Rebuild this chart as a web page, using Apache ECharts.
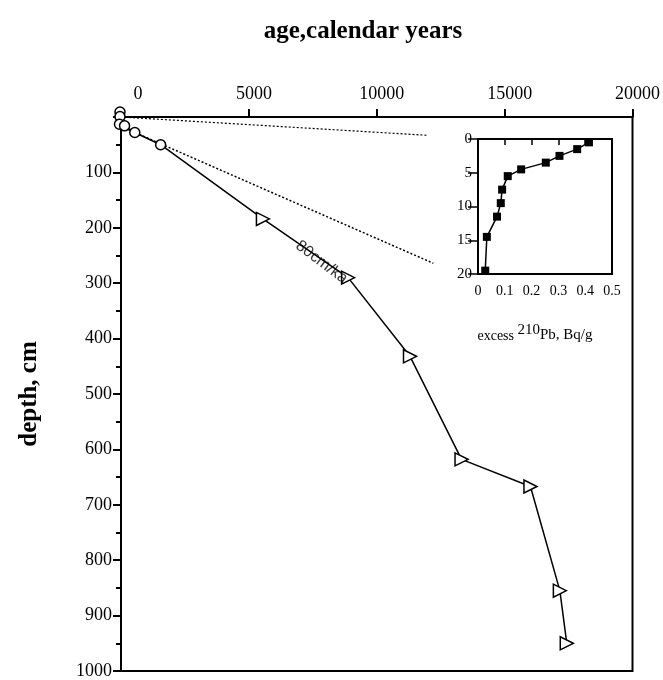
<!DOCTYPE html>
<html>
<head>
<meta charset="utf-8">
<script src="https://cdn.jsdelivr.net/npm/echarts@6/dist/echarts.min.js"></script>
<style>
html,body{margin:0;padding:0;background:#fff;}
#chart{width:663px;height:680px;}
</style>
</head>
<body>
<div id="chart"></div>
<script>
// Main plot: age (calendar years) vs depth (cm)
const circleAges   = [-40, -40, -60, 140, 540, 1550];
const circleDepths = [-9, -1, 13, 16, 28, 50];
const triAges      = [5550, 8880, 11300, 13315, 16010, 17160, 17430];
const triDepths    = [184, 290, 432, 618, 667, 855, 950];
// dotted sedimentation-rate reference lines
const ref1Ages   = [0, 11960];
const ref1Depths = [0, 33];
const ref2Ages   = [0, 12210];
const ref2Depths = [17, 264];
// rate annotation
const rateLabel = '80cm/ka';
const rateAt = [7840, 262];
// axis ticks
const ageTicks = [0, 5000, 10000, 15000, 20000];
const depthTicks = [0, 100, 200, 300, 400, 500, 600, 700, 800, 900, 1000];

// Inset: excess 210Pb (Bq/g) vs depth (cm)
const pbValues = [0.414, 0.370, 0.304, 0.253, 0.161, 0.111, 0.090, 0.085, 0.071, 0.033, 0.027];
const pbDepths = [0.5, 1.5, 2.5, 3.5, 4.5, 5.5, 7.5, 9.5, 11.5, 14.5, 19.5];
const pbTicks = [0, 0.1, 0.2, 0.3, 0.4, 0.5];
const pbDepthTicks = [0, 5, 10, 15, 20];

const serif = '"Liberation Serif","Times New Roman",serif';
const zip = (a, b) => a.map((v, i) => [v, b[i]]);
const mainPts = zip(circleAges, circleDepths).concat(zip(triAges, triDepths));

const chart = echarts.init(document.getElementById('chart'), null, {renderer: 'canvas'});
chart.setOption({
  animation: false,
  backgroundColor: '#fff',
  title: [{
    text: 'age,calendar years', left: 358, top: 14, textAlign: 'center',
    textStyle: {fontFamily: serif, fontWeight: 'bold', fontSize: 25, color: '#000'}
  }],
  grid: [
    {left: 121, top: 117, right: 27, bottom: 5, show: true, borderColor: '#000', borderWidth: 2, backgroundColor: 'transparent'},
    {left: 478, top: 139, width: 134, height: 135, show: true, borderColor: '#000', borderWidth: 2, backgroundColor: '#fff'}
  ],
  xAxis: [{
    gridIndex: 0, type: 'value', position: 'top', min: ageTicks[0], max: ageTicks[ageTicks.length - 1], interval: 5000,
    axisLine: {show: true, lineStyle: {color: '#000', width: 2}},
    axisTick: {show: true, inside: false, length: 8, lineStyle: {color: '#000', width: 2}},
    splitLine: {show: false},
    axisLabel: {fontFamily: serif, fontSize: 18, color: '#000', margin: 14,
      formatter: v => v === 0 ? '{z|0}' : '{n|' + v + '}',
      rich: {z: {fontFamily: serif, fontSize: 18, color: '#000', padding: [0, 0, 0, 34]},
             n: {fontFamily: serif, fontSize: 18, color: '#000', padding: [0, 0, 0, 10]}}}
  }, {
    gridIndex: 1, type: 'value', position: 'bottom', min: pbTicks[0], max: pbTicks[pbTicks.length - 1], interval: 0.1,
    axisLine: {show: true, lineStyle: {color: '#000', width: 2}},
    axisTick: {show: true, inside: false, length: 6, lineStyle: {color: '#000', width: 1.5}},
    splitLine: {show: false},
    axisLabel: {fontFamily: serif, fontSize: 14, color: '#000', margin: 10, formatter: v => String(+v.toFixed(1))},
    name: '{a|excess }{s|210}{b|Pb, Bq/g}', nameLocation: 'middle', nameGap: 49,
    nameTextStyle: {padding: [0, 20, 0, 0], rich: {
      a: {fontFamily: serif, fontSize: 14, color: '#000', lineHeight: 20, verticalAlign: 'bottom'},
      s: {fontFamily: serif, fontSize: 15, color: '#000', lineHeight: 20, verticalAlign: 'top'},
      b: {fontFamily: serif, fontSize: 15, color: '#000', lineHeight: 20, verticalAlign: 'bottom'}
    }}
  }],
  yAxis: [{
    gridIndex: 0, type: 'value', inverse: true, min: depthTicks[0], max: depthTicks[depthTicks.length - 1], interval: 100,
    axisLine: {show: true, lineStyle: {color: '#000', width: 2}},
    axisTick: {show: true, inside: false, length: 8, lineStyle: {color: '#000', width: 2}},
    minorTick: {show: true, splitNumber: 2, length: 5, lineStyle: {color: '#000', width: 2}},
    splitLine: {show: false}, minorSplitLine: {show: false},
    axisLabel: {fontFamily: serif, fontSize: 18, color: '#000', margin: 9, showMinLabel: false, formatter: v => String(v)},
    name: 'depth, cm', nameLocation: 'middle', nameGap: 79, nameRotate: 90,
    nameTextStyle: {fontFamily: serif, fontWeight: 'bold', fontSize: 25, color: '#000'}
  }, {
    gridIndex: 1, type: 'value', inverse: true, min: pbDepthTicks[0], max: pbDepthTicks[pbDepthTicks.length - 1], interval: 5,
    axisLine: {show: true, lineStyle: {color: '#000', width: 2}},
    axisTick: {show: true, inside: false, length: 10, lineStyle: {color: '#000', width: 1.5}},
    splitLine: {show: false},
    axisLabel: {fontFamily: serif, fontSize: 15, color: '#000', margin: 6, formatter: v => String(v)}
  }],
  series: [
    {type: 'line', xAxisIndex: 0, yAxisIndex: 0, data: zip(ref1Ages, ref1Depths), showSymbol: false, symbol: 'none',
     lineStyle: {color: '#000', width: 1.2, type: [2, 2]}, clip: false, z: 1},
    {type: 'line', xAxisIndex: 0, yAxisIndex: 0, data: zip(ref2Ages, ref2Depths), showSymbol: false, symbol: 'none',
     lineStyle: {color: '#000', width: 1.5, type: [2, 2]}, clip: false, z: 1},
    {type: 'line', xAxisIndex: 0, yAxisIndex: 0, data: mainPts, symbol: 'none',
     lineStyle: {color: '#000', width: 1.5}, clip: false, z: 2},
    {type: 'scatter', xAxisIndex: 0, yAxisIndex: 0, data: zip(circleAges, circleDepths), symbol: 'circle', symbolSize: 10,
     itemStyle: {color: '#fff', borderColor: '#000', borderWidth: 1.5, opacity: 1}, clip: false, z: 3},
    {type: 'scatter', xAxisIndex: 0, yAxisIndex: 0, data: zip(triAges, triDepths), symbol: 'triangle', symbolSize: 13, symbolRotate: -90,
     itemStyle: {color: '#fff', borderColor: '#000', borderWidth: 1.5, opacity: 1}, clip: false, z: 3},
    {type: 'scatter', xAxisIndex: 0, yAxisIndex: 0, data: [rateAt], symbolSize: 0, silent: true, z: 4,
     label: {show: true, position: 'inside', formatter: rateLabel, rotate: -37,
       fontFamily: '"Liberation Sans",Arial,sans-serif', fontSize: 16, color: '#000'}},
    {type: 'line', xAxisIndex: 1, yAxisIndex: 1, data: zip(pbValues, pbDepths), symbol: 'rect', symbolSize: 8,
     itemStyle: {color: '#000', opacity: 1}, lineStyle: {color: '#000', width: 1.5}, z: 5}
  ]
});
</script>
</body>
</html>
